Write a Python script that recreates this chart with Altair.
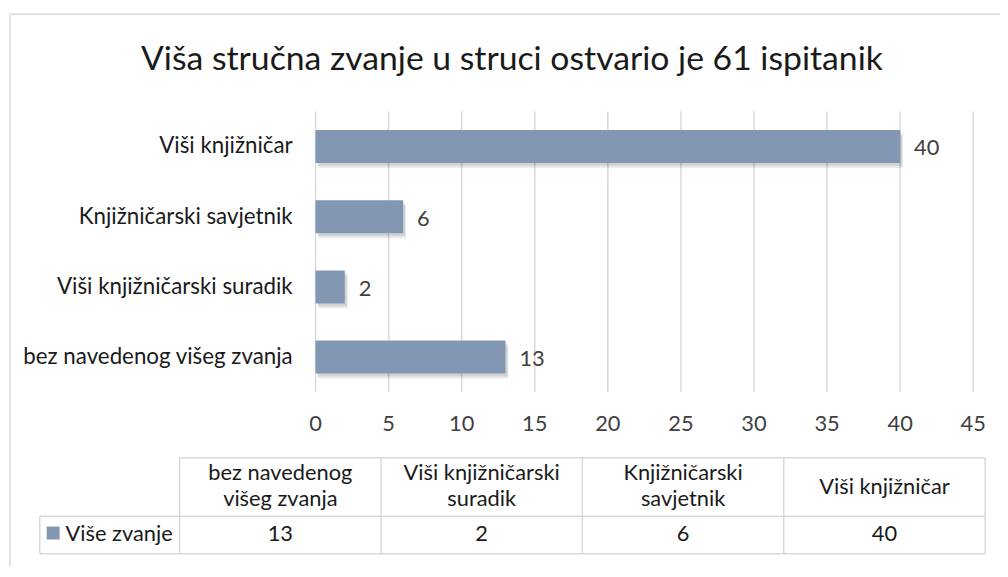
import altair as alt
import pandas as pd

# ---- data ----
categories = ["bez navedenog višeg zvanja", "Viši knjižničarski suradik",
              "Knjižničarski savjetnik", "Viši knjižničar"]
values = [13, 2, 6, 40]
header_labels = ["bez navedenog\nvišeg zvanja", "Viši knjižničarski\nsuradik",
                 "Knjižničarski\nsavjetnik", "Viši knjižničar"]
x_ticks = [0, 5, 10, 15, 20, 25, 30, 35, 40, 45]
series_name = "Više zvanje"
title_text = "Viša stručna zvanje u struci ostvario je 61 ispitanik"

df = pd.DataFrame({"cat": categories, "val": values, "header": header_labels})
ticks = pd.DataFrame({"t": x_ticks})
col_bounds = pd.DataFrame({"b": list(range(len(categories) + 1))})
one = pd.DataFrame({"a": [0]})

W, H = 1000, 561
FONT = "Lato"
BAR = "#8197b2"
GRID = "#d9d9d9"
TXT = "#1a1a1a"
TICK = "#404040"

xs = alt.Scale(domain=[0, 45], range=[310, 973], nice=False, zero=True)
ys = alt.Scale(domain=categories[::-1], range=[102, 385], paddingInner=0.53, paddingOuter=0.265)
tx_band = alt.Scale(domain=categories, range=[173, 985], paddingInner=0, paddingOuter=0)
tx_q = alt.Scale(domain=[0, len(categories)], range=[173, 985], nice=False, zero=False)

X = alt.X("val:Q", scale=xs, axis=None)
Y = alt.Y("cat:N", scale=ys, axis=None, sort=None)
TX = alt.X("cat:N", scale=tx_band, axis=None, sort=None)

# border (left + top)
border_left = alt.Chart(one).mark_rule(color=GRID, strokeWidth=1.5).encode(
    x=alt.value(2), y=alt.value(4), y2=alt.value(H))
border_top = alt.Chart(one).mark_rule(color=GRID, strokeWidth=1.5).encode(
    x=alt.value(2), x2=alt.value(W), y=alt.value(4))

title = alt.Chart(one).mark_text(font=FONT, fontSize=34, color=TXT, align="center",
                                 baseline="alphabetic").encode(
    x=alt.value(508), y=alt.value(60), text=alt.value(title_text))

grid = alt.Chart(ticks).mark_rule(color=GRID, strokeWidth=1.5).encode(
    x=alt.X("t:Q", scale=xs, axis=None), y=alt.value(102), y2=alt.value(385))
tick_labels = alt.Chart(ticks).mark_text(font=FONT, fontSize=22, color=TICK, baseline="middle").encode(
    x=alt.X("t:Q", scale=xs, axis=None), y=alt.value(417), text="t:Q")

shadow1 = alt.Chart(df).mark_bar(color="#000000", opacity=0.10, xOffset=2, yOffset=3).encode(x=X, y=Y)
shadow2 = alt.Chart(df).mark_bar(color="#000000", opacity=0.08, xOffset=3, yOffset=5).encode(x=X, y=Y)
bars = alt.Chart(df).mark_bar(color=BAR).encode(x=X, y=Y)
val_labels = alt.Chart(df).mark_text(font=FONT, fontSize=22, color=TICK, align="left", dx=14, dy=2,
                                     baseline="middle").encode(x=X, y=Y, text="val:Q")
cat_labels = alt.Chart(df).mark_text(font=FONT, fontSize=22.5, color=TXT, align="right",
                                     baseline="middle").encode(x=alt.value(287), y=Y, text="cat:N")

# data table
tbl_vlines = alt.Chart(col_bounds).mark_rule(color=GRID, strokeWidth=1.5).encode(
    x=alt.X("b:Q", scale=tx_q, axis=None), y=alt.value(451), y2=alt.value(548))
tbl_leftline = alt.Chart(one).mark_rule(color=GRID, strokeWidth=1.5).encode(
    x=alt.value(32), y=alt.value(510), y2=alt.value(548))
tbl_top = alt.Chart(one).mark_rule(color=GRID, strokeWidth=1.5).encode(
    x=alt.value(173), x2=alt.value(985), y=alt.value(451))
tbl_mid = alt.Chart(one).mark_rule(color=GRID, strokeWidth=1.5).encode(
    x=alt.value(32), x2=alt.value(985), y=alt.value(510))
tbl_bot = alt.Chart(one).mark_rule(color=GRID, strokeWidth=1.5).encode(
    x=alt.value(32), x2=alt.value(985), y=alt.value(548))
tbl_head2 = alt.Chart(df).transform_filter("indexof(datum.header, '\\n') >= 0").mark_text(
    font=FONT, fontSize=22, color=TXT, lineBreak="\n", lineHeight=26, baseline="middle").encode(
    x=TX, y=alt.value(467), text="header:N")
tbl_head1 = alt.Chart(df).transform_filter("indexof(datum.header, '\\n') < 0").mark_text(
    font=FONT, fontSize=22, color=TXT, baseline="middle").encode(
    x=TX, y=alt.value(481), text="header:N")
tbl_vals = alt.Chart(df).mark_text(font=FONT, fontSize=22, color=TXT, baseline="middle").encode(
    x=TX, y=alt.value(528.5), text="val:Q")
leg_sq = alt.Chart(one).mark_square(color=BAR, filled=True, opacity=1, size=170).encode(
    x=alt.value(45.5), y=alt.value(527))
leg_txt = alt.Chart(one).mark_text(font=FONT, fontSize=22, color=TXT, align="left", baseline="middle").encode(
    x=alt.value(58), y=alt.value(528.5), text=alt.value(series_name))

chart = alt.layer(
    border_left, border_top, title, grid, tick_labels, shadow2, shadow1, bars, val_labels, cat_labels,
    tbl_vlines, tbl_leftline, tbl_top, tbl_mid, tbl_bot, tbl_head2, tbl_head1, tbl_vals, leg_sq, leg_txt
).resolve_scale(x="independent", y="independent").properties(
    width=W, height=H, autosize=alt.AutoSizeParams(type="none"), padding=0, background="white"
).configure_view(stroke=None)

chart.save("out.html", embed_options={"renderer": "svg", "actions": False})
